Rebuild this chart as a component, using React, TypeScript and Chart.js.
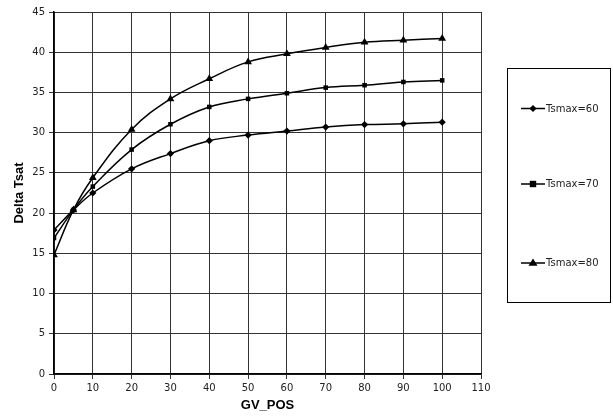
import React, { useEffect, useRef } from "react";
import { Chart, registerables } from "chart.js";

Chart.register(...registerables);

const gvPos = [0, 5, 10, 20, 30, 40, 50, 60, 70, 80, 90, 100];
const tsmax60 = [17.9, 20.4, 22.5, 25.5, 27.4, 29.0, 29.7, 30.2, 30.7, 31.0, 31.1, 31.3];
const tsmax70 = [16.9, 20.4, 23.3, 27.9, 31.05, 33.2, 34.2, 34.9, 35.6, 35.9, 36.3, 36.5];
const tsmax80 = [14.8, 20.4, 24.4, 30.4, 34.2, 36.7, 38.8, 39.8, 40.6, 41.25, 41.5, 41.7];
const seriesLabels = ["Tsmax=60", "Tsmax=70", "Tsmax=80"];
const xTitle = "GV_POS";
const yTitle = "Delta Tsat";

const FONT = "'DejaVu Sans', sans-serif";
const BOLD = "'Liberation Sans', Arial, sans-serif";

function drawMarker(ctx: CanvasRenderingContext2D, style: string, x: number, y: number) {
  ctx.beginPath();
  if (style === "rectRot") {
    const r = 3.6;
    ctx.moveTo(x, y - r);
    ctx.lineTo(x + r, y);
    ctx.lineTo(x, y + r);
    ctx.lineTo(x - r, y);
  } else if (style === "rect") {
    const r = 3.2;
    ctx.rect(x - r, y - r, 2 * r, 2 * r);
  } else {
    const r = 4.5;
    ctx.moveTo(x, y - r);
    ctx.lineTo(x + r, y + r * 0.6);
    ctx.lineTo(x - r, y + r * 0.6);
  }
  ctx.closePath();
  ctx.fill();
}

const boxLegend = {
  id: "boxLegend",
  afterDraw(chart: any) {
    const ctx = chart.ctx as CanvasRenderingContext2D;
    ctx.save();
    ctx.strokeStyle = "#000";
    ctx.lineWidth = 1;
    ctx.strokeRect(507.5, 68.5, 103, 234);
    const ys = [108.5, 184, 263];
    chart.data.datasets.forEach((ds: any, i: number) => {
      const y = ys[i];
      ctx.strokeStyle = "#000";
      ctx.lineWidth = 1.5;
      ctx.beginPath();
      ctx.moveTo(521, y);
      ctx.lineTo(545, y);
      ctx.stroke();
      ctx.fillStyle = "#000";
      drawMarker(ctx, ds.pointStyle, 533, y);
      ctx.fillStyle = "#222";
      ctx.font = `10px ${FONT}`;
      ctx.textBaseline = "middle";
      ctx.textAlign = "left";
      ctx.fillText(ds.label, 546, y + 0.5);
    });
    ctx.restore();
  },
};

export default function App() {
  const ref = useRef<HTMLCanvasElement | null>(null);
  useEffect(() => {
    if (!ref.current) return;
    const mk = (vals: number[]) => gvPos.map((x, i) => ({ x, y: vals[i] }));
    const styles = ["rectRot", "rect", "triangle"];
    const radii = [3.6, 3.2, 4.5];
    const chart = new Chart(ref.current, {
      type: "line",
      data: {
        datasets: [tsmax60, tsmax70, tsmax80].map((vals, i) => ({
          label: seriesLabels[i],
          data: mk(vals),
          borderColor: "#000",
          backgroundColor: "#000",
          borderWidth: 1.5,
          pointStyle: styles[i] as any,
          pointRadius: radii[i],
          pointBorderWidth: 0,
          pointBackgroundColor: "#000",
          tension: 0.4,
          fill: false,
        })),
      },
      options: {
        animation: false,
        responsive: false,
        maintainAspectRatio: false,
        layout: { padding: { left: 0, right: 132, top: 12, bottom: 0 } },
        plugins: {
          legend: { display: false },
          tooltip: { enabled: false },
        },
        scales: {
          x: {
            type: "linear",
            min: 0,
            max: 110,
            border: { color: "#000", width: 1.5 },
            grid: { color: "#333", lineWidth: 1, tickLength: 5 },
            ticks: { stepSize: 10, color: "#222", font: { family: FONT, size: 10 }, padding: 3, maxRotation: 0 },
            title: { display: true, text: xTitle, color: "#000", font: { family: BOLD, size: 13, weight: "bold" }, padding: { top: 0, bottom: 4 } },
            afterFit: (s: any) => { s.height = 43; },
          },
          y: {
            type: "linear",
            min: 0,
            max: 45,
            border: { color: "#000", width: 1.5 },
            grid: { color: "#333", lineWidth: 1, tickLength: 5 },
            ticks: { stepSize: 5, color: "#222", font: { family: FONT, size: 10 }, padding: 4 },
            title: { display: true, text: yTitle, color: "#000", font: { family: BOLD, size: 13, weight: "bold" }, padding: { top: 12, bottom: 0 } },
            afterFit: (s: any) => { s.width = 54; },
          },
        },
      },
      plugins: [boxLegend],
    });
    return () => chart.destroy();
  }, []);
  return (
    <div style={{ position: "absolute", left: 0, top: 0, width: 613, height: 417, background: "#fff" }}>
      <canvas ref={ref} width={613} height={417} style={{ width: 613, height: 417 }} />
    </div>
  );
}
